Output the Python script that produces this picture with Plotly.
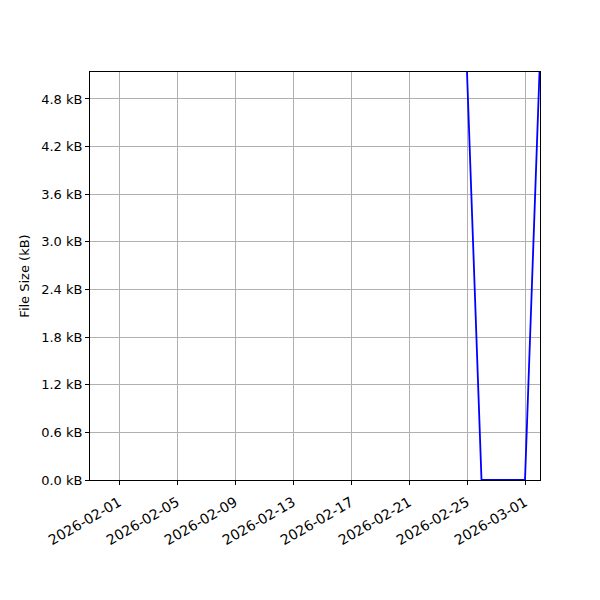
import plotly.graph_objects as go

dates = ["2026-02-25", "2026-02-26", "2026-02-27", "2026-02-28", "2026-03-01", "2026-03-02"]
size_kb = [5.14, 0.0, 0.0, 0.0, 0.0, 5.14]

x_ticks = ["2026-02-01", "2026-02-05", "2026-02-09", "2026-02-13", "2026-02-17",
           "2026-02-21", "2026-02-25", "2026-03-01"]
y_ticks = [0.0, 0.6, 1.2, 1.8, 2.4, 3.0, 3.6, 4.2, 4.8]

fig = go.Figure()
fig.add_trace(go.Scatter(x=dates, y=size_kb, mode="lines",
                         line=dict(color="#0000ff", width=1.8), showlegend=False))

axis_common = dict(showline=True, linecolor="black", linewidth=1, mirror=True,
                   ticks="outside", ticklen=4, tickcolor="black",
                   showgrid=True, gridcolor="#b0b0b0", gridwidth=1, zeroline=False)

fig.update_layout(
    width=600, height=600,
    margin=dict(l=82, r=68, t=64, b=128),
    plot_bgcolor="white", paper_bgcolor="white",
    font=dict(family="DejaVu Sans", size=13, color="black"),
    xaxis=dict(range=["2026-01-30", "2026-03-02 00:50"], tickvals=x_ticks,
               ticktext=x_ticks, tickangle=-30, ticklabelstandoff=4,
               tickfont=dict(family="DejaVu Sans", size=14, color="black"),
               **axis_common),
    yaxis=dict(range=[0, 5.14], tickvals=y_ticks,
               ticktext=[f"{v:.1f} kB" for v in y_ticks],
               tickfont=dict(family="DejaVu Sans", size=13, color="black"),
               title=dict(text="File Size (kB)", standoff=8,
                          font=dict(family="DejaVu Sans", size=13)),
               **axis_common),
)

fig.write_html("out.html")
